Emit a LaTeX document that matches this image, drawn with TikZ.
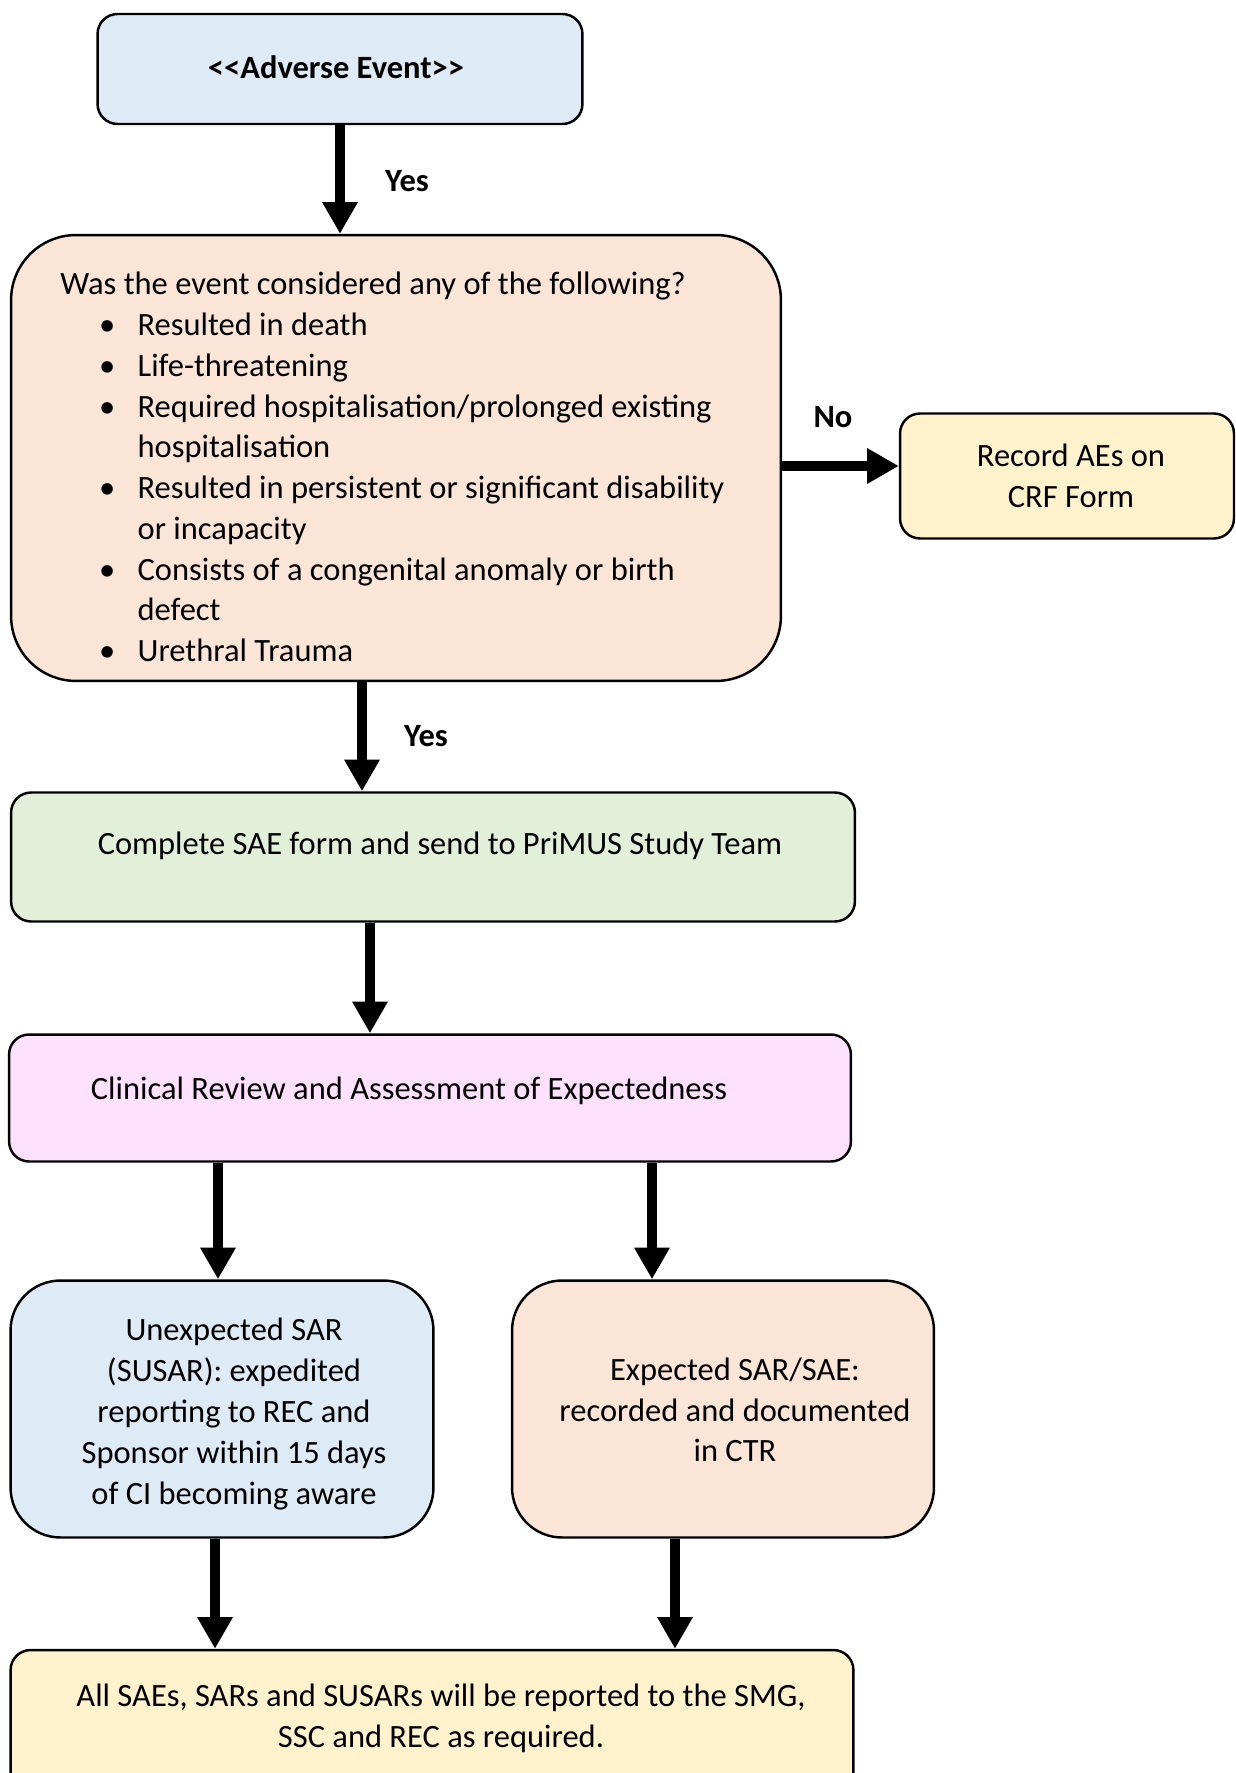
\documentclass[tikz,border=0pt]{standalone}
\usepackage{fontspec}
\setmainfont{Carlito}
\usetikzlibrary{arrows.meta,positioning}

\definecolor{aeblue}{HTML}{DEEBF7}
\definecolor{qpeach}{HTML}{FBE5D6}
\definecolor{crfyellow}{HTML}{FFF2CC}
\definecolor{saegreen}{HTML}{E2F0D9}
\definecolor{revpink}{HTML}{FFE0FF}

\tikzset{
  box/.style={draw, line width=1.4pt, rounded corners=#1, inner sep=0pt},
  box/.default=0.4cm,
  txt/.style={align=center, inner sep=0pt},
  lbl/.style={font=\bfseries, inner sep=0pt},
  arr/.style={line width=5.5pt, -{Triangle[length=18pt,width=19pt]}}
}

\newcommand{\qitem}{\makebox[44pt][l]{\hspace{22pt}\textbullet}}
\newcommand{\qcont}{\hspace*{44pt}}

\AtBeginDocument{\fontsize{18.5pt}{23.2pt}\selectfont}

\begin{document}
\begin{tikzpicture}[x=0.02cm,y=-0.02cm]
  \useasboundingbox (0,0) rectangle (1236,1773);

  % boxes
  \node[box, fill=aeblue, minimum width=9.7cm, minimum height=2.2cm] (ae) at (340,69) {};
  \node[box=1.3cm, fill=qpeach, minimum width=15.4cm, minimum height=8.92cm] (q) at (396,458) {};
  \node[box, fill=crfyellow, minimum width=6.68cm, minimum height=2.5cm] (rec) at (1067,476) {};
  \node[box, fill=saegreen, minimum width=16.88cm, minimum height=2.58cm] (sae) at (433,857) {};
  \node[box, fill=revpink, minimum width=16.84cm, minimum height=2.54cm] (crev) at (430,1098) {};
  \node[box=1cm, fill=aeblue, minimum width=8.46cm, minimum height=5.14cm] (unexp) at (222,1409) {};
  \node[box=1cm, fill=qpeach, minimum width=8.44cm, minimum height=5.14cm] (exp) at (723,1409) {};
  \node[box, fill=crfyellow, minimum width=16.86cm, minimum height=3cm] (all) at (432,1725) {};

  % texts
  \node[txt, font=\bfseries] (aetext) at (336,67) {<\kern0pt<Adverse Event>\kern0pt>};
  \node[anchor=west, align=left, inner sep=0pt] (qtext) at (60,467) {%
    Was the event considered any of the following?\\
    \qitem Resulted in death\\
    \qitem Life-threatening\\
    \qitem Required hospitalisation/prolonged existing\\
    \qcont hospitalisation\\
    \qitem Resulted in persistent or significant disability\\
    \qcont or incapacity\\
    \qitem Consists of a congenital anomaly or birth\\
    \qcont defect\\
    \qitem Urethral Trauma};
  \node[txt] (rectext) at (1071,476) {Record AEs on\\CRF Form};
  \node[txt] (saetext) at (440,846) {Complete SAE form and send to PriMUS Study Team};
  \node[txt] (crevtext) at (409,1091) {Clinical Review and Assessment of Expectedness};
  \node[txt] (unexptext) at (234,1414) {Unexpected SAR\\(SUSAR): expedited\\reporting to REC and\\Sponsor within 15 days\\of CI becoming aware};
  \node[txt] (exptext) at (735,1410) {Expected SAR/SAE:\\recorded and documented\\in CTR};
  \node[txt] (alltext) at (441,1718) {All SAEs, SARs and SUSARs will be reported to the SMG,\\SSC and REC as required.};

  % labels
  \node[lbl] (yes1) at (407,181) {Yes};
  \node[lbl] (no) at (833,417) {No};
  \node[lbl] (yes2) at (426,736) {Yes};

  % arrows
  \path (q.south) ++(-34,0) coordinate (qs);
  \path (rec.west) ++(0,-10) coordinate (recw);
  \path (sae.south) ++(-63,0) coordinate (saes);
  \path (unexp.north) ++(-4,0) coordinate (unexpn);
  \path (unexp.south) ++(-7,0) coordinate (unexps);
  \path (exp.north) ++(-71,0) coordinate (expn);
  \path (exp.south) ++(-48,0) coordinate (exps);
  \draw[arr] (ae.south) -- (ae.south |- q.north);
  \draw[arr] (recw -| q.east) -- (recw);
  \draw[arr] (qs) -- (qs |- sae.north);
  \draw[arr] (saes) -- (saes |- crev.north);
  \draw[arr] (unexpn |- crev.south) -- (unexpn);
  \draw[arr] (expn |- crev.south) -- (expn);
  \draw[arr] (unexps) -- (unexps |- all.north);
  \draw[arr] (exps) -- (exps |- all.north);
\end{tikzpicture}
\end{document}
